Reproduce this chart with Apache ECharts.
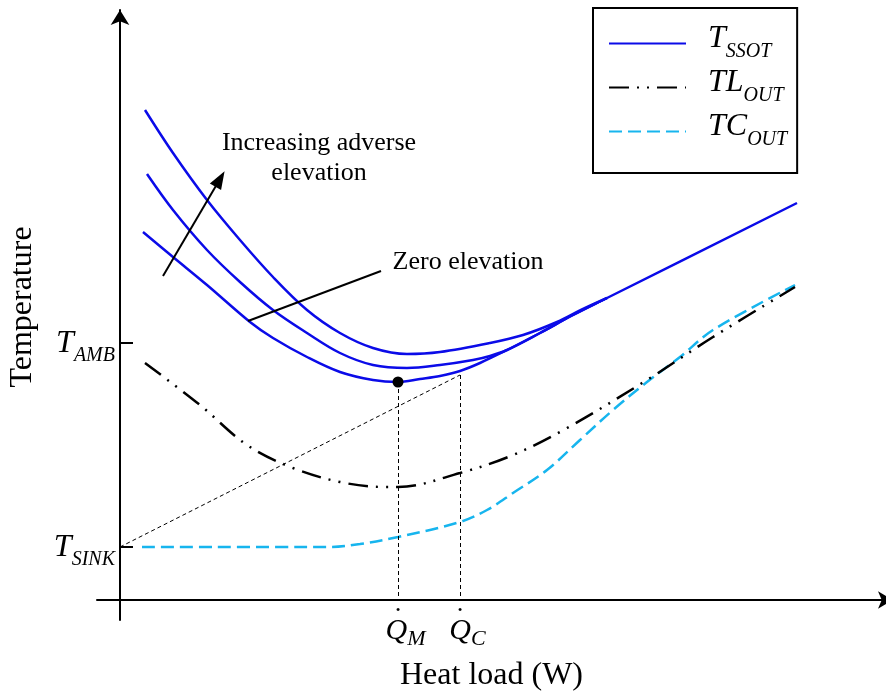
<!DOCTYPE html>
<html>
<head>
    <meta charset="utf-8" />
    <title>Temperature vs heat load</title>
    <script src="https://cdn.jsdelivr.net/npm/echarts@6/dist/echarts.min.js"></script>
    <style>html,body{margin:0;padding:0;background:#fff;}</style>
</head>
<body>
    <div id="main" style="width:886px;height:694px;"></div>
    <script type="text/javascript">
        // points (x: heat load, y: temperature, arbitrary units)
        var ssotHigh = [[25,490],[53,447],[87,400],[120,360],[153,323],[187,290],[220,267],[253,252],[287,246],[320,248],[370,257],[403,265],[437,278],[463,291],[487,302]];
        var ssotMid = [[27,426],[53,390],[87,350],[120,318],[153,290],[187,267],[220,247],[253,235],[287,232],[320,235],[353,240],[370,244],[387,250],[420,267],[453,285],[487,302]];
        var ssotZero = [[23,368],[53,343],[87,315],[130,278],[153,262],[187,243],[220,228],[253,220],[278,218],[300,221],[320,224],[340,229],[360,237],[387,250],[420,267],[453,285],[487,302],[677,397]];
        var tlOut = [[25,237],[80,195],[127,155],[173,132],[220,118],[265,113],[278,113],[340,127],[393,145],[447,172],[527,220],[593,263],[675,313]];
        var tcOut = [[22,53],[210,53],[240,56],[278,63],[340,78],[367,90],[393,107],[427,130],[460,160],[493,190],[527,218],[560,243],[593,270],[675,315]];

        var yTickValues = [257, 53];
        var yTickSubs = ['AMB', 'SINK'];
        var xTickValues = [278, 340];
        var xTickSubs = ['M', 'C'];

        var minPoint = [278, 218];
        var qcPoint = [340, 225];
        var sinkPoint = [0, 53];
        var adverseArrow = [[43, 324], [100, 421]];
        var zeroPointer = [[128, 279], [261, 329]];
        var adverseText = [199, 442];
        var zeroText = [348, 338];

        var legendNames = ['T_SSOT', 'TL_OUT', 'TC_OUT'];
        var legendMain = ['T', 'TL', 'TC'];
        var legendSubs = ['SSOT', 'OUT', 'OUT'];

        var serif = "'Liberation Serif', 'Times New Roman', serif";
        var blue = '#0b0be8';
        var cyan = '#17b5ee';

        var chart = echarts.init(document.getElementById('main'));

        function curve(name, data, color, type) {
            return {
                name: name,
                type: 'line',
                data: data,
                smooth: 0.35,
                symbol: 'none',
                lineStyle: { color: color, width: 2.5, type: type },
                itemStyle: { color: color },
                z: 3
            };
        }

        // big italic letter with a dropped subscript
        function subRich(bigSize, bigLine, subSize, drop, boxLine) {
            return {
                g: { width: 17, lineHeight: boxLine || bigLine },
                sp: { width: 15, lineHeight: bigLine },
                t: { fontFamily: serif, fontStyle: 'italic', fontSize: bigSize, lineHeight: bigLine, color: '#000', verticalAlign: 'top' },
                s: { fontFamily: serif, fontStyle: 'italic', fontSize: subSize, lineHeight: subSize, color: '#000', verticalAlign: 'top', padding: [drop, 0, 0, 0] },
                d: { fontFamily: serif, fontSize: 26, lineHeight: 10, color: '#000' }
            };
        }

        var option = {
            animation: false,
            grid: { left: 97, right: 0, top: 10, bottom: 74, outerBoundsMode: 'none' },
            legend: {
                orient: 'vertical',
                left: 593,
                top: 8,
                padding: [15, 10, 23, 15],
                itemGap: 5,
                itemWidth: 77,
                itemHeight: 12,
                borderColor: '#000',
                borderWidth: 2,
                itemStyle: { opacity: 0 },
                data: legendNames,
                formatter: function (name) {
                    var i = legendNames.indexOf(name);
                    return '{g| }{t|' + legendMain[i] + '}{s|' + legendSubs[i] + '}';
                },
                textStyle: { rich: subRich(32, 36, 20, 19, 41) }
            },
            xAxis: {
                type: 'value',
                min: -23,
                max: 766,
                name: 'Heat load (W)',
                nameLocation: 'middle',
                nameGap: 40,
                nameTextStyle: { fontFamily: serif, fontSize: 32, color: '#000' },
                axisLine: { onZero: true, symbol: ['none', 'arrow'], symbolSize: [13, 15], symbolOffset: [0, 7], lineStyle: { color: '#000', width: 2 } },
                axisTick: { show: false },
                splitLine: { show: false },
                axisLabel: {
                    customValues: xTickValues,
                    margin: -14,
                    formatter: function (v) {
                        var i = xTickValues.indexOf(v);
                        return '{d|\u00b7}\n{sp| }{t|Q}{s|' + xTickSubs[i] + '}';
                    },
                    rich: subRich(30, 32, 22, 12)
                }
            },
            yAxis: {
                type: 'value',
                min: -20,
                max: 590,
                name: 'Temperature',
                nameLocation: 'middle',
                nameGap: 58,
                nameTextStyle: { fontFamily: serif, fontSize: 32, color: '#000', padding: [0, 0, 0, 16] },
                axisLine: { onZero: true, symbol: ['none', 'arrow'], symbolSize: [14, 15], lineStyle: { color: '#000', width: 2 } },
                axisTick: { show: true, inside: true, length: 13, customValues: yTickValues, lineStyle: { color: '#000', width: 2 } },
                splitLine: { show: false },
                axisLabel: {
                    customValues: yTickValues,
                    margin: -18,
                    padding: [12, 0, 0, 0],
                    formatter: function (v) {
                        var i = yTickValues.indexOf(v);
                        return '{t|T}{s|' + yTickSubs[i] + '}';
                    },
                    rich: subRich(32, 43, 20, 18)
                }
            },
            series: [
                {
                    name: 'guides',
                    type: 'line',
                    data: [],
                    markLine: {
                        silent: true,
                        symbol: 'none',
                        label: { show: false },
                        lineStyle: { color: '#000', width: 1, type: [4, 3] },
                        data: [
                            [{ coord: sinkPoint }, { coord: qcPoint }],
                            [{ coord: minPoint }, { coord: [minPoint[0], 0] }],
                            [{ coord: qcPoint }, { coord: [qcPoint[0], 0] }]
                        ]
                    }
                },
                curve('TC_OUT', tcOut, cyan, [13, 6]),
                curve('TL_OUT', tlOut, '#000', [20, 8, 2, 8, 2, 8]),
                curve('T_SSOT', ssotZero, blue, 'solid'),
                curve('T_SSOT', ssotMid, blue, 'solid'),
                curve('T_SSOT', ssotHigh, blue, 'solid'),
                {
                    name: 'min',
                    type: 'scatter',
                    data: [minPoint],
                    symbolSize: 11,
                    itemStyle: { color: '#000', opacity: 1 },
                    z: 5
                },
                {
                    name: 'notes',
                    type: 'line',
                    data: [],
                    markLine: {
                        silent: true,
                        symbol: 'none',
                        label: { show: false },
                        lineStyle: { color: '#000', width: 2, type: 'solid' },
                        data: [
                            [{ coord: adverseArrow[0], symbol: 'none' }, { coord: adverseArrow[1], symbol: 'triangle', symbolSize: [13, 18] }],
                            [{ coord: zeroPointer[0] }, { coord: zeroPointer[1] }]
                        ]
                    }
                },
                {
                    name: 'labels',
                    type: 'scatter',
                    symbolSize: 0,
                    itemStyle: { opacity: 1 },
                    data: [
                        { value: adverseText, label: { formatter: 'Increasing adverse\nelevation' } },
                        { value: zeroText, label: { formatter: 'Zero elevation' } }
                    ],
                    label: { show: true, position: 'inside', fontFamily: serif, fontSize: 26, lineHeight: 30, color: '#000', opacity: 1, textBorderWidth: 0, align: 'center' }
                }
            ]
        };
        chart.setOption(option);
    </script>
</body>
</html>
